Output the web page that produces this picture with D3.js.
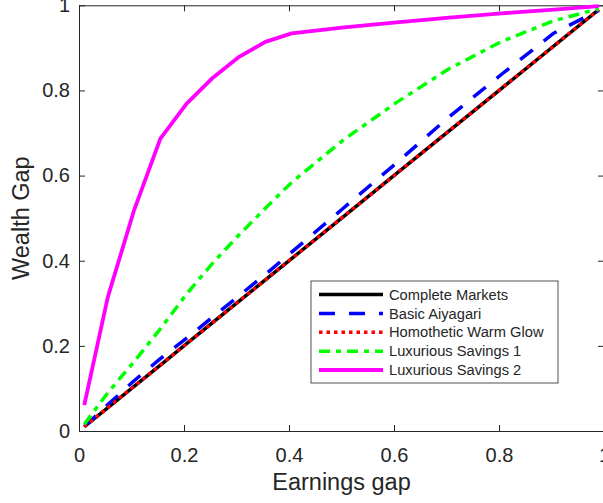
<!DOCTYPE html>
<html>
<head>
<meta charset="utf-8">
<script src="https://cdn.jsdelivr.net/npm/d3@7"></script>
<style>
  html, body { margin: 0; padding: 0; background: #fff; }
  svg { display: block; }
  text { font-family: "Liberation Sans", Arial, Helvetica, sans-serif; fill: #262626; }
</style>
</head>
<body>
<svg id="chart" width="603" height="503"></svg>
<script>
// Earnings gap grid shared by every series
const earnings = [0.01, 0.055, 0.105, 0.155, 0.205, 0.255, 0.305, 0.355, 0.405, 0.505, 0.605, 0.705, 0.805, 0.905, 0.99];

// Wealth gap for each model
const completeMarkets   = [0.01, 0.055, 0.105, 0.155, 0.205, 0.255, 0.305, 0.355, 0.405, 0.505, 0.605, 0.705, 0.805, 0.905, 0.99];
const basicAiyagari     = [0.01, 0.062, 0.118, 0.170, 0.218, 0.268, 0.318, 0.368, 0.420, 0.525, 0.630, 0.738, 0.838, 0.935, 0.988];
const homotheticWarm    = [0.01, 0.055, 0.105, 0.155, 0.205, 0.255, 0.305, 0.355, 0.405, 0.505, 0.605, 0.705, 0.805, 0.905, 0.99];
const luxuriousSavings1 = [0.016, 0.090, 0.163, 0.240, 0.322, 0.395, 0.461, 0.523, 0.584, 0.685, 0.772, 0.851, 0.915, 0.964, 0.992];
const luxuriousSavings2 = [0.061, 0.315, 0.519, 0.687, 0.769, 0.830, 0.879, 0.914, 0.934, 0.948, 0.960, 0.971, 0.981, 0.990, 0.998];

const seriesNames = ["Complete Markets", "Basic Aiyagari", "Homothetic Warm Glow", "Luxurious Savings 1", "Luxurious Savings 2"];
const xTicks = [0, 0.2, 0.4, 0.6, 0.8, 1];
const yTicks = [0, 0.2, 0.4, 0.6, 0.8, 1];

const series = [
  { name: seriesNames[0], values: completeMarkets,   color: "#000000", dash: null,        width: 3.5 },
  { name: seriesNames[1], values: basicAiyagari,     color: "#0000ff", dash: "16,14",     width: 3.5 },
  { name: seriesNames[2], values: homotheticWarm,    color: "#ff0000", dash: "3.5,4",     width: 3.5 },
  { name: seriesNames[3], values: luxuriousSavings1, color: "#00ff00", dash: "11,6,5,6",  width: 3.5 },
  { name: seriesNames[4], values: luxuriousSavings2, color: "#ff00ff", dash: null,        width: 3.8 }
];

const svg = d3.select("#chart");
const plotLeft = 79, plotRight = 604, plotTop = 5.3, plotBottom = 431;
const x = d3.scaleLinear().domain([0, 1]).range([plotLeft, plotRight]);
const y = d3.scaleLinear().domain([0, 1]).range([plotBottom, plotTop]);
const axisColor = "#262626";

// Frame with inward ticks on all four sides
function styleAxis(g) {
  g.selectAll(".domain").attr("stroke", axisColor).attr("stroke-width", 1);
  g.selectAll(".tick line").attr("stroke", axisColor).attr("stroke-width", 1);
  g.selectAll(".tick text").attr("fill", axisColor)
    .style("font-family", '"Liberation Sans", Arial, Helvetica, sans-serif')
    .style("font-size", "20px");
}

svg.append("g").attr("transform", `translate(0,${plotBottom})`)
  .call(d3.axisBottom(x).tickValues(xTicks).tickFormat(d3.format("")).tickSizeInner(-6).tickSizeOuter(0).tickPadding(17))
  .call(styleAxis);
svg.append("g").attr("transform", `translate(0,${plotTop})`)
  .call(d3.axisTop(x).tickValues(xTicks).tickFormat("").tickSizeInner(-6).tickSizeOuter(0))
  .call(styleAxis);
svg.append("g").attr("transform", `translate(${plotLeft},0)`)
  .call(d3.axisLeft(y).tickValues(yTicks).tickFormat(d3.format("")).tickSizeInner(-6).tickSizeOuter(0).tickPadding(9))
  .call(styleAxis);
svg.append("g").attr("transform", `translate(${plotRight},0)`)
  .call(d3.axisRight(y).tickValues(yTicks).tickFormat("").tickSizeInner(-6).tickSizeOuter(0))
  .call(styleAxis);

// Series lines
const line = d3.line().x((d, i) => x(earnings[i])).y(d => y(d));
series.forEach(s => {
  svg.append("path")
    .datum(s.values)
    .attr("d", line)
    .attr("fill", "none")
    .attr("stroke", s.color)
    .attr("stroke-width", s.width)
    .attr("stroke-dasharray", s.dash)
    .attr("stroke-linejoin", "round");
});

// Axis titles
svg.append("text")
  .attr("x", (plotLeft + plotRight) / 2).attr("y", 490)
  .attr("text-anchor", "middle")
  .style("font-size", "23.5px")
  .text("Earnings gap");
svg.append("text")
  .attr("transform", `translate(29,${(plotTop + plotBottom) / 2}) rotate(-90)`)
  .attr("text-anchor", "middle")
  .style("font-size", "23.5px")
  .text("Wealth Gap");

// Legend
const legend = svg.append("g");
legend.append("rect")
  .attr("x", 311).attr("y", 281).attr("width", 247).attr("height", 102)
  .attr("fill", "#fff").attr("stroke", axisColor).attr("stroke-width", 0.8);
const rowY = d3.scalePoint().domain(seriesNames).range([294.5, 370]);
series.forEach(s => {
  const yy = rowY(s.name);
  legend.append("line")
    .attr("x1", 319).attr("x2", 383).attr("y1", yy).attr("y2", yy)
    .attr("stroke", s.color).attr("stroke-width", s.width)
    .attr("stroke-dasharray", s.dash);
  legend.append("text")
    .attr("x", 389).attr("y", yy).attr("dy", "0.35em")
    .style("font-size", "14.7px").attr("fill", "#000")
    .text(s.name);
});
</script>
</body>
</html>
